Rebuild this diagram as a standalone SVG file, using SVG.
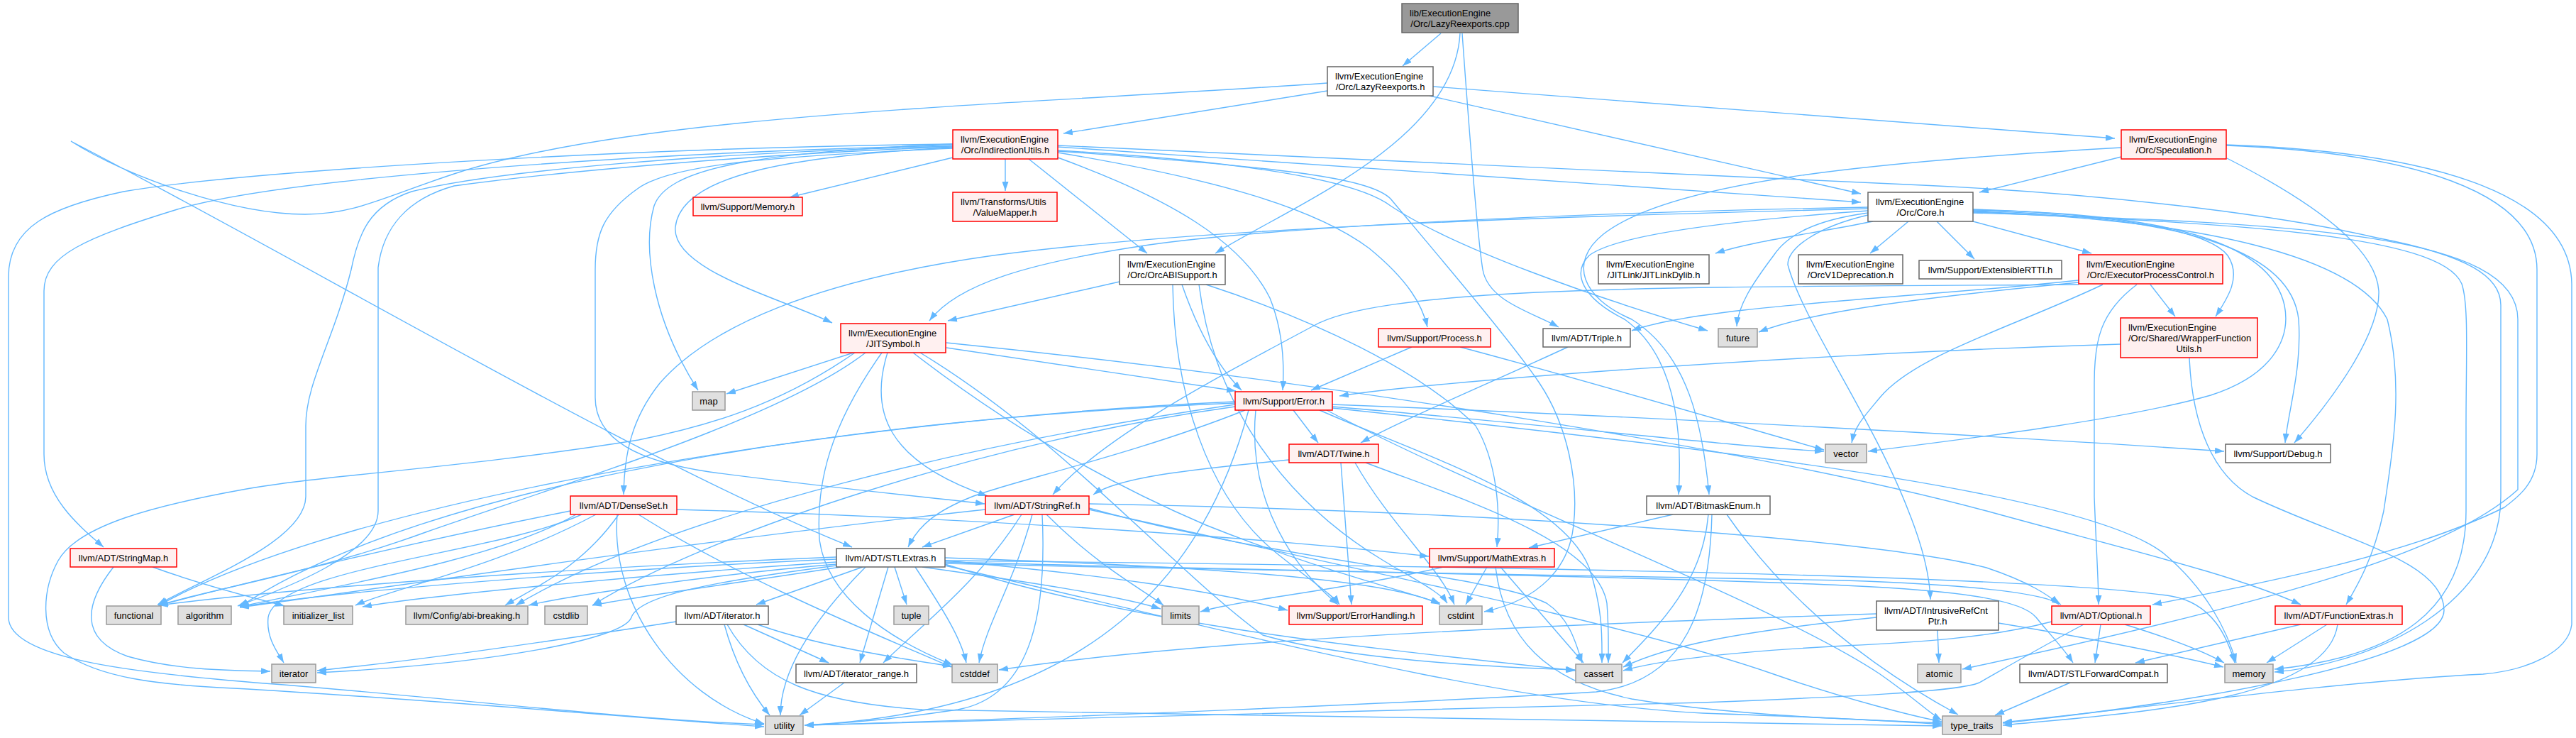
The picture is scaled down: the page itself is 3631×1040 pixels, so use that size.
<svg xmlns="http://www.w3.org/2000/svg" width="3631" height="1040" viewBox="0 0 3631 1040">
<style>
.e path{fill:none;stroke:#63B8FF;stroke-width:1.4;marker-end:url(#a)}
.r{fill:#FFF0F0;stroke:#FF0000;stroke-width:1.5}
.w{fill:#FFFFFF;stroke:#666666;stroke-width:1.5}
.g{fill:#E0E0E0;stroke:#999999;stroke-width:1.5}
.root{fill:#999999;stroke:#666666;stroke-width:1.5}
text{font-family:"Liberation Sans",Arial,Helvetica,sans-serif;font-size:13px;fill:#000000}
.m{text-anchor:middle}
</style>
<defs>
<marker id="a" markerUnits="userSpaceOnUse" viewBox="0 0 13 9" markerWidth="13" markerHeight="9" refX="13" refY="4.5" orient="auto"><path d="M0,0 L13,4.5 L0,9 z" fill="#63B8FF"/></marker>
</defs>
<rect x="0" y="0" width="3631" height="1040" fill="#FFFFFF"/>
<g id="edges" class="e">
<path d="M2031,47 L1977,93"/>
<path d="M2058,47 C2050,200 1820,290 1713,357"/>
<path d="M2061,47 C2072,200 2082,330 2090,380 C2098,425 2160,440 2197,461"/>
<path d="M1871,128 L1499,188"/>
<path d="M2015,135 L2623,273"/>
<path d="M2020,122 L2981,195"/>
<path d="M1871,117 C1400,150 900,160 640,245 C540,278 500,302 430,302 C330,302 180,250 100,199 C450,380 900,650 1201,771"/>
<path d="M1343,205 C900,215 400,250 250,295 C120,335 62,360 62,410 L62,640 C62,700 110,740 146,771"/>
<path d="M1343,203 C900,208 350,240 174,270 C70,292 12,320 12,390 L12,870 C12,930 200,950 400,965 C700,990 900,1015 1077,1021"/>
<path d="M1343,206 C1000,215 700,240 580,270 C520,290 505,330 495,380 C470,480 431,540 431,600 L431,700 C430,760 300,810 222,852"/>
<path d="M1343,207 C1100,215 800,240 640,262 C575,280 540,320 533,377 L533,720 C533,780 400,830 335,854"/>
<path d="M1343,209 C1100,220 950,230 900,265 C850,300 839,330 839,380 L839,560 C839,620 900,650 1000,665 C1150,685 1300,700 1388,710"/>
<path d="M1343,203 C1050,215 940,240 922,290 C905,350 920,450 984,550"/>
<path d="M1343,208 C1100,220 960,250 952,320 C946,380 1100,420 1173,455"/>
<path d="M1343,222 L1113,278"/>
<path d="M1417,224 L1417,269"/>
<path d="M1491,207 L2623,285"/>
<path d="M1450,224 L1617,357"/>
<path d="M1491,222 C1650,280 1750,340 1790,420 C1810,470 1810,520 1808,550"/>
<path d="M1491,215 C1700,250 1850,290 1930,350 C1985,395 2005,430 2012,461"/>
<path d="M1491,212 C1800,230 1920,260 1960,290 C2050,350 2250,420 2407,466"/>
<path d="M1491,213 C1800,235 1930,250 1960,280 C2010,340 2130,480 2170,540 C2210,600 2225,680 2218,740 C2212,800 2170,845 2092,862"/>
<path d="M1491,205 C2000,225 2500,250 2710,261 C2950,272 3200,300 3350,335 C3480,360 3525,390 3525,430 L3525,700 C3525,850 3350,935 3206,947"/>
<path d="M2633,294 C2200,305 1700,320 1400,360 C1150,395 1000,460 930,540 C890,590 880,640 879,697"/>
<path d="M2633,292 C2200,300 1800,320 1620,345 C1450,370 1350,400 1310,452"/>
<path d="M2640,312 C2550,330 2470,340 2418,357"/>
<path d="M2690,312 L2636,357"/>
<path d="M2730,312 L2783,365"/>
<path d="M2781,312 L2948,357"/>
<path d="M2633,300 C2560,310 2520,330 2500,360 C2470,400 2450,430 2448,460"/>
<path d="M2633,297 C2450,310 2280,330 2240,360 C2215,385 2230,420 2290,450 C2360,500 2372,600 2366,697"/>
<path d="M2781,295 C2950,300 3110,320 3140,360 C3160,390 3140,420 3123,446"/>
<path d="M2781,296 C3050,300 3200,340 3220,430 C3230,480 3200,530 3116,557 C3000,590 2800,615 2633,636"/>
<path d="M2781,297 C3100,305 3230,360 3240,450 C3245,520 3225,580 3221,624"/>
<path d="M2781,298 C3100,310 3320,360 3365,450 C3390,550 3370,650 3360,720 C3345,790 3320,830 3307,852"/>
<path d="M2781,299 C3150,315 3440,330 3470,400 C3480,430 3476,500 3476,600 L3476,720 C3476,860 3380,925 3206,943"/>
<path d="M2633,303 C2560,320 2520,350 2520,373 C2540,450 2640,590 2690,720 C2710,770 2720,810 2721,845"/>
<path d="M2781,300 C3250,315 3549,330 3549,450 L3549,690 C3450,780 3200,850 2766,943"/>
<path d="M2990,221 L2790,271"/>
<path d="M3139,223 C3290,300 3350,360 3353,410 C3355,470 3290,560 3234,624"/>
<path d="M3138,205 C3400,215 3576,270 3576,380 L3576,640 C3576,680 3550,700 3530,715 C3400,780 3200,820 3034,852"/>
<path d="M3138,204 C3450,215 3623,280 3625,400 L3625,880 C3620,920 3560,945 3500,950 C3300,960 3000,1000 2823,1018"/>
<path d="M2990,208 C2600,230 2350,260 2260,330 C2210,370 2230,420 2300,450 C2380,500 2400,600 2409,697"/>
<path d="M2930,395 C2700,420 2400,430 2300,466"/>
<path d="M2930,398 C2700,420 2550,440 2479,468"/>
<path d="M2930,401 C2400,405 1950,400 1850,460 C1700,540 1550,620 1484,697"/>
<path d="M2964,401 C2840,460 2700,500 2650,560 C2625,590 2615,600 2610,624"/>
<path d="M3012,401 C2960,440 2952,480 2952,540 L2952,700 C2955,780 2958,820 2958,852"/>
<path d="M3031,401 L3066,446"/>
<path d="M2989,485 C2500,500 2000,540 1888,558"/>
<path d="M3086,504 C3090,600 3120,670 3175,700 C3300,760 3445,790 3445,860 C3445,930 3100,990 2823,1019"/>
<path d="M1203,497 L1024,555"/>
<path d="M1334,490 L1742,551"/>
<path d="M1334,483 C1900,540 2500,640 2800,720 C3000,775 3150,810 3243,852"/>
<path d="M1251,497 C1225,580 1250,650 1392,699"/>
<path d="M1243,497 C1170,600 1150,680 1155,760 C1165,840 1250,900 1343,937"/>
<path d="M1205,497 C1100,570 1000,600 900,620 C650,660 450,670 342,690 C220,712 110,740 82,790 C60,830 55,890 90,920 C140,955 220,965 330,970 C600,985 900,1012 1077,1024"/>
<path d="M1220,497 C1100,590 800,680 600,750 C450,805 300,830 223,853"/>
<path d="M1287,497 C1420,600 1560,680 1700,740 C1850,800 1970,830 2030,850"/>
<path d="M1297,497 C1500,620 1650,800 1780,895 C1900,930 2100,940 2220,944"/>
<path d="M1578,397 L1336,452"/>
<path d="M1666,401 C1690,470 1720,520 1750,550"/>
<path d="M1700,401 C1850,450 2000,520 2080,600 C2110,650 2115,720 2110,771"/>
<path d="M1653,401 C1655,550 1700,700 1800,780 C1850,820 1880,840 1888,852"/>
<path d="M1690,401 C1710,560 1800,700 1950,790 C2000,820 2030,835 2040,850"/>
<path d="M1823,578 L1858,624"/>
<path d="M1878,570 C2400,590 2900,620 3135,636"/>
<path d="M1878,573 C2200,600 2450,630 2571,636"/>
<path d="M1770,578 C1760,680 1800,780 1886,852"/>
<path d="M1755,578 C1600,640 1420,680 1370,700 C1320,720 1295,740 1280,771"/>
<path d="M1741,570 C1400,620 950,720 727,853"/>
<path d="M1741,573 C1400,620 1000,750 835,853"/>
<path d="M1741,566 C1200,590 500,700 224,853"/>
<path d="M1741,568 C1200,590 600,680 338,855"/>
<path d="M1860,578 C2000,640 2200,700 2240,800 C2260,860 2258,900 2258,934"/>
<path d="M1878,575 C2500,640 2950,700 3050,780 C3110,830 3140,890 3152,934"/>
<path d="M1870,578 C2100,700 2500,850 2650,950 C2700,985 2720,1005 2737,1015"/>
<path d="M1760,578 C1700,800 1550,1000 1134,1022"/>
<path d="M1817,648 C1700,660 1580,670 1541,697"/>
<path d="M1890,652 L1905,852"/>
<path d="M1925,652 C2050,700 2250,760 2265,850 C2268,890 2267,910 2267,934"/>
<path d="M1910,652 C1960,740 2030,800 2050,852"/>
<path d="M2210,489 C2100,540 1980,590 1918,624"/>
<path d="M1990,489 L1848,550"/>
<path d="M2058,489 C2250,540 2450,600 2571,634"/>
<path d="M1430,725 L1300,771"/>
<path d="M1440,725 C1380,820 1300,880 1245,934"/>
<path d="M1455,725 C1430,820 1390,880 1380,934"/>
<path d="M1469,725 C1475,850 1460,980 1350,1000 C1250,1015 1180,1020 1134,1022"/>
<path d="M1475,725 C1550,800 1610,830 1640,853"/>
<path d="M1389,718 C1000,760 600,820 338,856"/>
<path d="M1535,718 C1900,800 2300,880 2500,950 C2600,985 2700,1010 2737,1017"/>
<path d="M1535,716 C1800,790 2100,810 2180,850 C2210,870 2220,900 2230,934"/>
<path d="M1535,710 C2100,720 2650,760 2800,800 C2860,820 2890,840 2902,852"/>
<path d="M954,718 C1400,730 1800,760 2014,784"/>
<path d="M872,725 C820,800 750,830 712,853"/>
<path d="M812,725 C700,790 450,830 338,855"/>
<path d="M804,720 C600,760 350,820 224,853"/>
<path d="M840,725 C700,800 550,830 501,853"/>
<path d="M900,725 C1050,820 1250,900 1341,940"/>
<path d="M870,725 C860,850 950,980 1077,1020"/>
<path d="M820,725 C700,780 390,800 378,870 C375,900 392,920 400,934"/>
<path d="M160,799 C120,850 110,900 180,925 C250,945 330,945 381,946"/>
<path d="M215,799 C300,830 370,845 401,854"/>
<path d="M1216,799 L1066,852"/>
<path d="M1252,799 L1212,934"/>
<path d="M1261,799 L1278,852"/>
<path d="M1290,799 C1330,860 1355,900 1362,934"/>
<path d="M1300,799 C1450,820 1580,840 1636,858"/>
<path d="M1332,790 C1550,810 1700,830 1815,860"/>
<path d="M1332,786 C1600,795 1950,810 2030,852"/>
<path d="M1332,795 C1600,880 1900,910 2221,945"/>
<path d="M1332,794 C1800,806 2300,810 2600,818 C2780,824 2880,836 2905,852"/>
<path d="M1332,792 C1800,804 2300,812 2600,825 C2760,832 2850,845 2870,870 C2890,895 2910,915 2922,934"/>
<path d="M1332,790 C2300,800 2900,815 3060,840 C3120,850 3140,900 3150,934"/>
<path d="M1332,797 C1700,880 2100,990 2400,1005 C2600,1012 2700,1018 2737,1021"/>
<path d="M1220,799 C1140,880 1100,950 1100,1008"/>
<path d="M1179,785 C800,800 400,830 224,853"/>
<path d="M1179,788 C900,800 500,830 338,855"/>
<path d="M1179,792 C900,810 600,840 511,855"/>
<path d="M1179,795 C1000,810 800,840 745,853"/>
<path d="M1185,799 C1050,820 900,840 835,853"/>
<path d="M1179,797 C1000,820 900,840 890,870 C880,900 700,935 447,948"/>
<path d="M2035,799 C1900,830 1750,845 1692,862"/>
<path d="M2096,799 L2066,852"/>
<path d="M2115,799 L2232,934"/>
<path d="M2108,799 C2120,900 2180,960 2300,985 C2450,1010 2650,1015 2737,1019"/>
<path d="M2358,725 L2155,772"/>
<path d="M2408,725 C2400,820 2340,880 2287,934"/>
<path d="M2413,725 C2410,850 2380,960 2250,975 C2000,990 1500,1012 1134,1022"/>
<path d="M2434,725 C2500,820 2600,920 2760,1007"/>
<path d="M2731,888 L2733,934"/>
<path d="M2645,870 C2450,890 2350,910 2288,940"/>
<path d="M2645,865 C2200,880 1700,900 1408,944"/>
<path d="M2817,878 C2950,900 3050,920 3134,940"/>
<path d="M2961,880 L2953,934"/>
<path d="M2995,880 C3060,900 3110,920 3135,934"/>
<path d="M2937,880 C2880,910 2820,945 2790,962 C2760,975 2600,982 2400,990 C1900,1005 1400,1016 1134,1022"/>
<path d="M2892,876 C2800,900 2700,905 2600,910 C2450,918 2340,930 2288,945"/>
<path d="M3243,880 L3010,934"/>
<path d="M3280,880 L3195,934"/>
<path d="M3295,880 C3280,990 3000,1005 2823,1022"/>
<path d="M953,876 C800,900 600,930 447,945"/>
<path d="M1021,880 C1040,950 1070,990 1085,1008"/>
<path d="M1025,880 C1070,960 1150,990 1300,1000 C1800,1010 2400,1015 2737,1023"/>
<path d="M1048,880 L1168,934"/>
<path d="M1068,880 C1150,910 1280,930 1342,939"/>
<path d="M1190,962 L1127,1008"/>
<path d="M2918,962 L2812,1008"/>
</g>
<g id="nodes">
<g id="n0"><rect class="root" x="1976" y="5" width="164" height="41"/><text x="1987" y="22.5">lib/ExecutionEngine</text><text class="m" x="2058" y="37.5">/Orc/LazyReexports.cpp</text></g>
<g id="n1"><rect class="w" x="1871" y="94" width="149" height="41"/><text x="1882" y="111.5">llvm/ExecutionEngine</text><text class="m" x="1945.5" y="126.5">/Orc/LazyReexports.h</text></g>
<g id="n2"><rect class="r" x="1343" y="183" width="148" height="41"/><text x="1354" y="200.5">llvm/ExecutionEngine</text><text class="m" x="1417" y="215.5">/Orc/IndirectionUtils.h</text></g>
<g id="n3"><rect class="w" x="2633" y="271" width="148" height="41"/><text x="2644" y="288.5">llvm/ExecutionEngine</text><text class="m" x="2707" y="303.5">/Orc/Core.h</text></g>
<g id="n4"><rect class="r" x="2990" y="183" width="148" height="41"/><text x="3001" y="200.5">llvm/ExecutionEngine</text><text class="m" x="3064" y="215.5">/Orc/Speculation.h</text></g>
<g id="n5"><rect class="r" x="977" y="278" width="154" height="26"/><text class="m" x="1054" y="295.5">llvm/Support/Memory.h</text></g>
<g id="n6"><rect class="r" x="1343" y="271" width="147" height="41"/><text x="1354" y="288.5">llvm/Transforms/Utils</text><text class="m" x="1416.5" y="303.5">/ValueMapper.h</text></g>
<g id="n7"><rect class="w" x="1578" y="359" width="149" height="42"/><text x="1589" y="376.5">llvm/ExecutionEngine</text><text class="m" x="1652.5" y="391.5">/Orc/OrcABISupport.h</text></g>
<g id="n8"><rect class="w" x="2253" y="359" width="156" height="41"/><text x="2264" y="376.5">llvm/ExecutionEngine</text><text class="m" x="2331" y="391.5">/JITLink/JITLinkDylib.h</text></g>
<g id="n9"><rect class="w" x="2535" y="359" width="147" height="41"/><text x="2546" y="376.5">llvm/ExecutionEngine</text><text class="m" x="2608.5" y="391.5">/OrcV1Deprecation.h</text></g>
<g id="n10"><rect class="w" x="2705" y="367" width="201" height="26"/><text class="m" x="2805.5" y="384.5">llvm/Support/ExtensibleRTTI.h</text></g>
<g id="n11"><rect class="r" x="2930" y="359" width="203" height="41"/><text x="2941" y="376.5">llvm/ExecutionEngine</text><text class="m" x="3031.5" y="391.5">/Orc/ExecutorProcessControl.h</text></g>
<g id="n12"><rect class="r" x="1185" y="456" width="148" height="41"/><text x="1196" y="473.5">llvm/ExecutionEngine</text><text class="m" x="1259" y="488.5">/JITSymbol.h</text></g>
<g id="n13"><rect class="r" x="1943" y="463" width="158" height="26"/><text class="m" x="2022" y="480.5">llvm/Support/Process.h</text></g>
<g id="n14"><rect class="w" x="2175" y="463" width="123" height="26"/><text class="m" x="2236.5" y="480.5">llvm/ADT/Triple.h</text></g>
<g id="n15"><rect class="g" x="2422" y="463" width="55" height="26"/><text class="m" x="2449.5" y="480.5">future</text></g>
<g id="n16"><rect class="r" x="2989" y="448" width="193" height="56"/><text x="3000" y="465.5">llvm/ExecutionEngine</text><text x="3000" y="480.5">/Orc/Shared/WrapperFunction</text><text class="m" x="3085.5" y="495.5">Utils.h</text></g>
<g id="n17"><rect class="g" x="976" y="552" width="46" height="26"/><text class="m" x="999" y="569.5">map</text></g>
<g id="n18"><rect class="r" x="1741" y="552" width="137" height="26"/><text class="m" x="1809.5" y="569.5">llvm/Support/Error.h</text></g>
<g id="n19"><rect class="g" x="2573" y="626" width="58" height="26"/><text class="m" x="2602" y="643.5">vector</text></g>
<g id="n20"><rect class="w" x="3137" y="626" width="148" height="26"/><text class="m" x="3211" y="643.5">llvm/Support/Debug.h</text></g>
<g id="n21"><rect class="r" x="1817" y="626" width="126" height="26"/><text class="m" x="1880" y="643.5">llvm/ADT/Twine.h</text></g>
<g id="n22"><rect class="r" x="804" y="699" width="150" height="26"/><text class="m" x="879" y="716.5">llvm/ADT/DenseSet.h</text></g>
<g id="n23"><rect class="r" x="1389" y="699" width="146" height="26"/><text class="m" x="1462" y="716.5">llvm/ADT/StringRef.h</text></g>
<g id="n24"><rect class="w" x="2321" y="699" width="174" height="26"/><text class="m" x="2408" y="716.5">llvm/ADT/BitmaskEnum.h</text></g>
<g id="n25"><rect class="r" x="99" y="773" width="150" height="26"/><text class="m" x="174" y="790.5">llvm/ADT/StringMap.h</text></g>
<g id="n26"><rect class="w" x="1179" y="773" width="153" height="26"/><text class="m" x="1255.5" y="790.5">llvm/ADT/STLExtras.h</text></g>
<g id="n27"><rect class="r" x="2015" y="773" width="176" height="26"/><text class="m" x="2103" y="790.5">llvm/Support/MathExtras.h</text></g>
<g id="n28"><rect class="w" x="2645" y="847" width="172" height="41"/><text x="2656" y="864.5">llvm/ADT/IntrusiveRefCnt</text><text class="m" x="2731" y="879.5">Ptr.h</text></g>
<g id="n29"><rect class="g" x="150" y="854" width="77" height="26"/><text class="m" x="188.5" y="871.5">functional</text></g>
<g id="n30"><rect class="g" x="251" y="854" width="75" height="26"/><text class="m" x="288.5" y="871.5">algorithm</text></g>
<g id="n31"><rect class="g" x="400" y="854" width="97" height="26"/><text class="m" x="448.5" y="871.5">initializer_list</text></g>
<g id="n32"><rect class="g" x="572" y="854" width="172" height="26"/><text class="m" x="658" y="871.5">llvm/Config/abi-breaking.h</text></g>
<g id="n33"><rect class="g" x="768" y="854" width="60" height="26"/><text class="m" x="798" y="871.5">cstdlib</text></g>
<g id="n34"><rect class="w" x="953" y="854" width="130" height="26"/><text class="m" x="1018" y="871.5">llvm/ADT/iterator.h</text></g>
<g id="n35"><rect class="g" x="1260" y="854" width="49" height="26"/><text class="m" x="1284.5" y="871.5">tuple</text></g>
<g id="n36"><rect class="g" x="1638" y="854" width="52" height="26"/><text class="m" x="1664" y="871.5">limits</text></g>
<g id="n37"><rect class="r" x="1817" y="854" width="188" height="26"/><text class="m" x="1911" y="871.5">llvm/Support/ErrorHandling.h</text></g>
<g id="n38"><rect class="g" x="2029" y="854" width="60" height="26"/><text class="m" x="2059" y="871.5">cstdint</text></g>
<g id="n39"><rect class="r" x="2892" y="854" width="139" height="26"/><text class="m" x="2961.5" y="871.5">llvm/ADT/Optional.h</text></g>
<g id="n40"><rect class="r" x="3207" y="854" width="179" height="26"/><text class="m" x="3296.5" y="871.5">llvm/ADT/FunctionExtras.h</text></g>
<g id="n41"><rect class="g" x="383" y="936" width="62" height="26"/><text class="m" x="414" y="953.5">iterator</text></g>
<g id="n42"><rect class="w" x="1122" y="936" width="170" height="26"/><text class="m" x="1207" y="953.5">llvm/ADT/iterator_range.h</text></g>
<g id="n43"><rect class="g" x="1342" y="936" width="64" height="26"/><text class="m" x="1374" y="953.5">cstddef</text></g>
<g id="n44"><rect class="g" x="2221" y="936" width="65" height="26"/><text class="m" x="2253.5" y="953.5">cassert</text></g>
<g id="n45"><rect class="g" x="2703" y="936" width="61" height="26"/><text class="m" x="2733.5" y="953.5">atomic</text></g>
<g id="n46"><rect class="w" x="2847" y="936" width="208" height="26"/><text class="m" x="2951" y="953.5">llvm/ADT/STLForwardCompat.h</text></g>
<g id="n47"><rect class="g" x="3136" y="936" width="68" height="26"/><text class="m" x="3170" y="953.5">memory</text></g>
<g id="n48"><rect class="g" x="1079" y="1009" width="53" height="26"/><text class="m" x="1105.5" y="1026.5">utility</text></g>
<g id="n49"><rect class="g" x="2738" y="1009" width="83" height="26"/><text class="m" x="2779.5" y="1026.5">type_traits</text></g>
</g>
</svg>
